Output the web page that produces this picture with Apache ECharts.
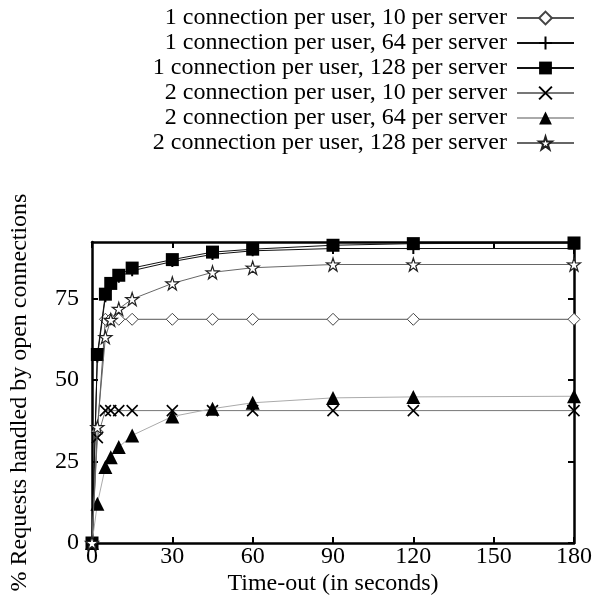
<!DOCTYPE html>
<html>
<head>
<meta charset="utf-8">
<script src="https://cdn.jsdelivr.net/npm/echarts@6/dist/echarts.min.js"></script>
<style>
html,body{margin:0;padding:0;background:#fff;}
#chart{width:595px;height:603px;}
</style>
</head>
<body>
<div id="chart"></div>
<script>
// Time-out values (seconds)
var timeouts = [0, 2, 5, 7, 10, 15, 30, 45, 60, 90, 120, 180];
// Series values (% requests handled by open connections)
var c1s10  = [0, 34, 68.6, 68.6, 68.6, 68.6, 68.6, 68.6, 68.6, 68.6, 68.6, 68.6];
var c1s64  = [0, 57, 75.5, 79, 81.5, 83.5, 86.3, 88.5, 89.6, 90.3, 90.3, 90.3];
var c1s128 = [0, 57.8, 76.3, 79.6, 82.1, 84.3, 86.9, 89.2, 90.1, 91.3, 91.8, 92.0];
var c2s10  = [0, 32.3, 40.6, 40.6, 40.6, 40.6, 40.6, 40.6, 40.6, 40.6, 40.6, 40.6];
var c2s64  = [0, 12.0, 23.3, 26.3, 29.4, 33.0, 38.8, 41.2, 43.0, 44.5, 44.8, 45.0];
var c2s128 = [0, 35.5, 63.1, 68.4, 71.8, 74.8, 79.6, 83.0, 84.4, 85.4, 85.4, 85.4];
var seriesNames = [
  '1 connection per user, 10 per server',
  '1 connection per user, 64 per server',
  '1 connection per user, 128 per server',
  '2 connection per user, 10 per server',
  '2 connection per user, 64 per server',
  '2 connection per user, 128 per server'
];
var xTicks = [0, 30, 60, 90, 120, 150, 180];
var yTicks = [0, 25, 50, 75];

function pairs(vals){ return timeouts.map(function(t,i){ return [t, vals[i]]; }); }

var FONT = '"Liberation Serif", "DejaVu Serif", serif';
var FS = 24;
var starPath = 'path://M0,-1L0.2234,-0.3074L0.9511,-0.309L0.3614,0.1174L0.5878,0.809L0,0.38L-0.5878,0.809L-0.3614,0.1174L-0.9511,-0.309L-0.2234,-0.3074Z';

var styles = [
  {symbol:'path://M0,-1L1,0L0,1L-1,0Z', size:12, line:'#555', fill:'#fff', border:'#444', bw:1},
  {symbol:'path://M-1,0L1,0M0,-1L0,1', size:11, line:'#111', fill:'transparent', border:'#000', bw:2},
  {symbol:'rect', size:13, line:'#111', fill:'#000', border:'#000', bw:0},
  {symbol:'path://M-1,-1L1,1M-1,1L1,-1', size:11, line:'#777', fill:'transparent', border:'#000', bw:1.6},
  {symbol:'triangle', size:14, line:'#aaa', fill:'#000', border:'#000', bw:0},
  {symbol:starPath, size:13, line:'#666', fill:'#fff', border:'#222', bw:1.2}
];
var dataSets = [c1s10, c1s64, c1s128, c2s10, c2s64, c2s128];

var series = dataSets.map(function(d, i){
  var s = styles[i];
  return {
    name: seriesNames[i],
    type: 'line',
    data: pairs(d),
    symbol: s.symbol,
    symbolSize: s.size,
    showAllSymbol: true,
    lineStyle: {color: s.line, width: 1},
    itemStyle: {color: s.fill, borderColor: s.border, borderWidth: s.bw},
    emphasis: {disabled: true},
    z: 2 + i
  };
});

var axisLineStyle = {color: '#000', width: 2.5};
var tickStyle = {inside: true, length: 6, lineStyle: {color: '#000', width: 2}};

var chart = echarts.init(document.getElementById('chart'), null, {renderer:'canvas'});
chart.setOption({
  animation: false,
  backgroundColor: '#fff',
  textStyle: {fontFamily: FONT, color: '#000'},
  legend: {
    orient: 'vertical',
    align: 'right',
    right: 20,
    top: 6,
    padding: 0,
    itemWidth: 57,
    itemHeight: 16,
    itemGap: 1,
    textStyle: {fontFamily: FONT, fontSize: FS, color: '#000', padding: [0, 5, 0, 0]},
    data: seriesNames,
    selectedMode: false
  },
  grid: {left: 92, right: 20, top: 242, bottom: 60},
  xAxis: [{
    type: 'value', min: 0, max: 180, interval: 30,
    name: 'Time-out (in seconds)', nameLocation: 'middle', nameGap: 29,
    nameTextStyle: {fontFamily: FONT, fontSize: FS, color: '#000'},
    axisLine: {onZero: false, lineStyle: axisLineStyle},
    axisTick: tickStyle,
    axisLabel: {fontFamily: FONT, fontSize: FS, color: '#000', margin: 2,
      formatter: function(v){ return xTicks.indexOf(v) >= 0 ? String(v) : ''; }},
    splitLine: {show: false}
  }, {
    type: 'value', min: 0, max: 180, interval: 30, position: 'top',
    axisLine: {onZero: false, lineStyle: axisLineStyle},
    axisTick: tickStyle,
    axisLabel: {show: false}, splitLine: {show: false}
  }],
  yAxis: [{
    type: 'value', min: 0, max: 92.3, interval: 25,
    name: '% Requests handled by open connections', nameLocation: 'middle', nameGap: 60,
    nameTextStyle: {fontFamily: FONT, fontSize: FS, color: '#000'},
    axisLine: {onZero: false, lineStyle: axisLineStyle},
    axisTick: tickStyle,
    axisLabel: {fontFamily: FONT, fontSize: FS, color: '#000', margin: 13, showMaxLabel: false,
      formatter: function(v){ return yTicks.indexOf(v) >= 0 ? String(v) : ''; }},
    splitLine: {show: false}
  }, {
    type: 'value', min: 0, max: 92.3, interval: 25, position: 'right',
    axisLine: {onZero: false, lineStyle: axisLineStyle},
    axisTick: tickStyle,
    axisLabel: {show: false}, splitLine: {show: false}
  }],
  series: series
});
</script>
</body>
</html>
